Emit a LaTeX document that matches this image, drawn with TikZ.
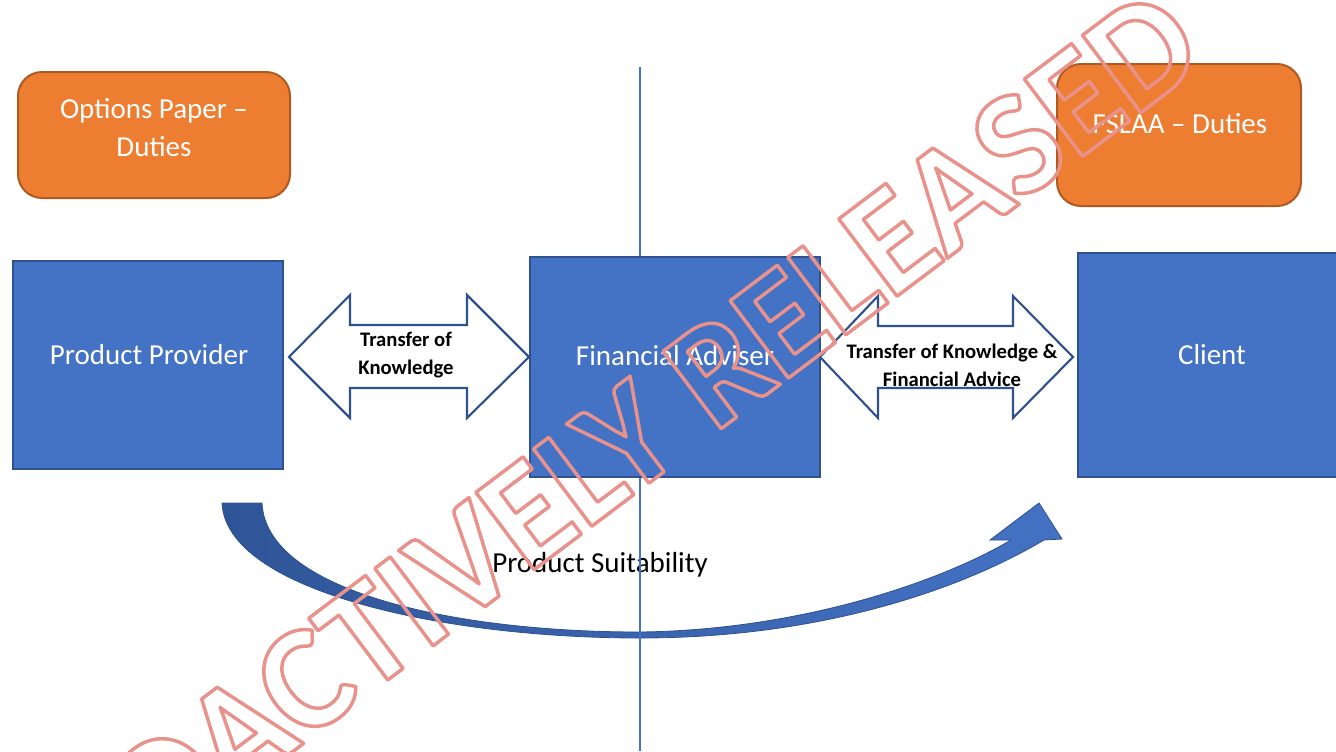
\documentclass[tikz,border=0pt]{standalone}
\usepackage{fontspec}
\setmainfont{Carlito}
\newfontfamily\stampfont{Carlito}
\usetikzlibrary{fit,calc}

\definecolor{boxblue}{HTML}{4472C4}
\definecolor{boxedge}{HTML}{2F528F}
\definecolor{dutyfill}{HTML}{ED7D31}
\definecolor{dutyedge}{HTML}{AE5A21}
\definecolor{curvedark}{HTML}{2F5597}
\definecolor{stampred}{RGB}{233,146,140}

% stroke-only (outlined) text through the PDF text rendering mode
\newcommand\outlinetext[1]{%
  \special{pdf:literal direct 1 Tr 2.6 w 1 j}#1\special{pdf:literal direct 0 Tr}}

\begin{document}
\begin{tikzpicture}[x=0.75pt,y=-0.75pt,
  bluebox/.style={draw=boxedge, fill=boxblue, line width=2pt, inner sep=0pt},
  dutybox/.style={draw=dutyedge, fill=dutyfill, line width=1.5pt, rounded corners=18pt, inner sep=0pt},
  bigtext/.style={text=white, font=\fontsize{21.75}{28.5}\selectfont, align=center, inner sep=0pt},
  smalltext/.style={text=black, font=\bfseries\fontsize{15.5}{21}\selectfont, align=center, inner sep=0pt},
  blockarrow/.style={draw=boxedge, fill=white, line width=1.6pt, line join=miter},
  divider/.style={draw=boxblue, line width=0.8pt},
]
\useasboundingbox (0,0) rectangle (1336,751);
\clip (0,0) rectangle (1336,751);

% curved "product suitability" arrow
\path[draw=boxedge, line width=0.6pt, left color=curvedark, right color=boxblue]
  (222,503) .. controls (226,590) and (440,638) .. (640,638)
  .. controls (820,638) and (960,590) .. (1044,540)
  -- (1062,539) -- (1039,503) -- (990,540) -- (1011,540)
  .. controls (940,582) and (800,630) .. (640,632)
  .. controls (450,632) and (266,590) .. (262,503) -- cycle;

\node[text=black, font=\fontsize{21.75}{26}\selectfont, inner sep=0pt] (suit) at (600,565) {Product Suitability};

% vertical divider
\coordinate (divtop) at (640,67);
\coordinate (divbot) at (640,751);
\draw[divider] (divtop) -- (divbot);

% duty boxes
\node[dutybox, fit={(18,72) (290,198)}] (optbox) {};
\node[bigtext] (opttext) at (154,128) {Options Paper –\\Duties};
\node[dutybox, fit={(1057,64) (1301,206)}] (fslbox) {};
\node[bigtext] (fsltext) at (1180,124) {FSLAA – Duties};

% parties
\node[bluebox, fit={(13,261) (283,469)}] (provider) {};
\node[bigtext] (providertext) at (149,355) {Product Provider};
\node[bluebox, fit={(530,257) (820,477)}] (adviser) {};
\node[bigtext] (advisertext) at (675,356) {Financial Adviser};
\node[bluebox, fit={(1078,253) (1346,477)}] (client) {};
\node[bigtext] (clienttext) at (1212,355) {Client};

% block arrows between the parties
\coordinate (k1) at (289,357);
\draw[blockarrow] (k1) -- ++(61,-62) -- ++(0,30) -- ++(117,0) -- ++(0,-30)
  -- ++(62,62) -- ++(-62,61) -- ++(0,-30) -- ++(-117,0) -- ++(0,30) -- cycle;
\node[smalltext] (k1text) at (406,355) {Transfer of\\Knowledge};

\coordinate (k2) at (820,357);
\draw[blockarrow] (k2) -- ++(58,-61) -- ++(0,30) -- ++(135,0) -- ++(0,-30)
  -- ++(60,61) -- ++(-60,61) -- ++(0,-30) -- ++(-135,0) -- ++(0,30) -- cycle;
\node[smalltext] (k2text) at (952,365) {Transfer of Knowledge \&\\Financial Advice};

% release stamp
\node[text=stampred, rotate=37, anchor=base, inner sep=0pt,
      font=\stampfont\bfseries\fontsize{112}{124}\selectfont] (stamp) at (616,508)
  {\outlinetext{PROACTIVELY RELEASED}};
\end{tikzpicture}
\end{document}
